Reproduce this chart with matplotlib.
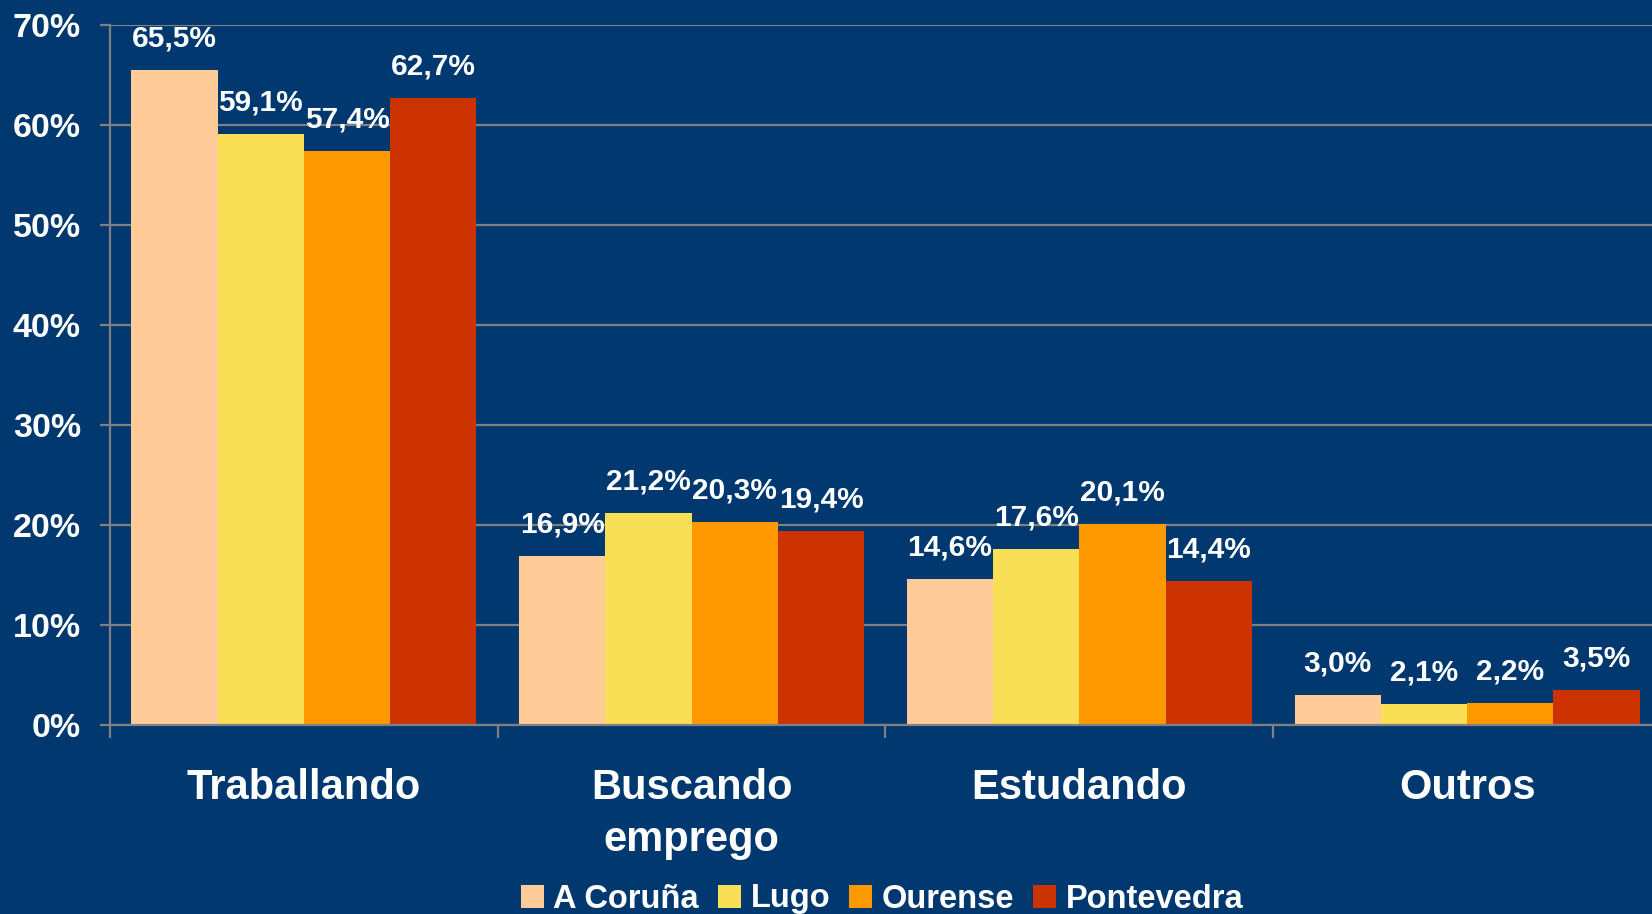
import matplotlib
matplotlib.use("Agg")
import matplotlib.pyplot as plt
from matplotlib.patches import Patch
import numpy as np

categories = ["Traballando", "Buscando\nemprego", "Estudando", "Outros"]
series_names = ["A Coruña", "Lugo", "Ourense", "Pontevedra"]
a_coruna = [65.5, 16.9, 14.6, 3.0]
lugo = [59.1, 21.2, 17.6, 2.1]
ourense = [57.4, 20.3, 20.1, 2.2]
pontevedra = [62.7, 19.4, 14.4, 3.5]
yticks = [0, 10, 20, 30, 40, 50, 60, 70]

series = [a_coruna, lugo, ourense, pontevedra]
colors = ["#FFCC99", "#F9DF55", "#FF9900", "#CC3300"]
bg = "#00386F"
grid_c = "#808080"
font = ["Liberation Sans", "DejaVu Sans"]

fig = plt.figure(figsize=(16.52, 9.14), dpi=100, facecolor=bg)
ax = fig.add_axes([110/1652, 1-725/914, 1551/1652, 700/914])
ax.set_facecolor(bg)

x = np.arange(len(categories))
bw = 0.2225
for i, (vals, c) in enumerate(zip(series, colors)):
    pos = x + (i - 1.5) * bw
    ax.bar(pos, vals, width=bw, color=c, zorder=3, linewidth=0)
    for xp, v in zip(pos, vals):
        ax.annotate(f"{v:.1f}%".replace(".", ","), (xp, v), xytext=(0, 17),
                    textcoords="offset points", ha="center", va="baseline",
                    color="white", fontsize=21.5, fontweight="bold", family=font,
                    zorder=4)

ax.set_xlim(-0.5, 3.5)
ax.set_ylim(0, 70)
ax.set_yticks(yticks)
ax.set_yticklabels([f"{t}%" for t in yticks], color="white", fontsize=24.5,
                   fontweight="bold", family=font)
ax.yaxis.grid(True, color=grid_c, linewidth=1.6, zorder=1)
ax.tick_params(axis="y", length=7, width=1.6, color=grid_c, pad=14)

ax.set_xticks([-0.5, 0.5, 1.5, 2.5, 3.5])
ax.set_xticklabels([])
ax.tick_params(axis="x", which="major", length=9, width=1.6, color=grid_c)
ax.set_xticks(x, minor=True)
ax.set_xticklabels(categories, minor=True, color="white", fontsize=30,
                   fontweight="bold", family=font, linespacing=1.38)
ax.tick_params(axis="x", which="minor", length=0, pad=31)

for s in ["top", "right"]:
    ax.spines[s].set_visible(False)
for s in ["left", "bottom"]:
    ax.spines[s].set_color(grid_c)
    ax.spines[s].set_linewidth(1.6)
    ax.spines[s].set_zorder(5)

handles = [Patch(facecolor=c, edgecolor="none") for c in colors]
leg = fig.legend(handles, series_names, loc="center", bbox_to_anchor=(882/1652, 1-899/914),
                 ncol=4, frameon=False, handlelength=0.7, handleheight=0.7,
                 handletextpad=0.3, columnspacing=0.58,
                 prop={"family": font, "weight": "bold", "size": 23.5})
for t in leg.get_texts():
    t.set_color("white")

fig.savefig("out.png", dpi=100, facecolor=bg)
